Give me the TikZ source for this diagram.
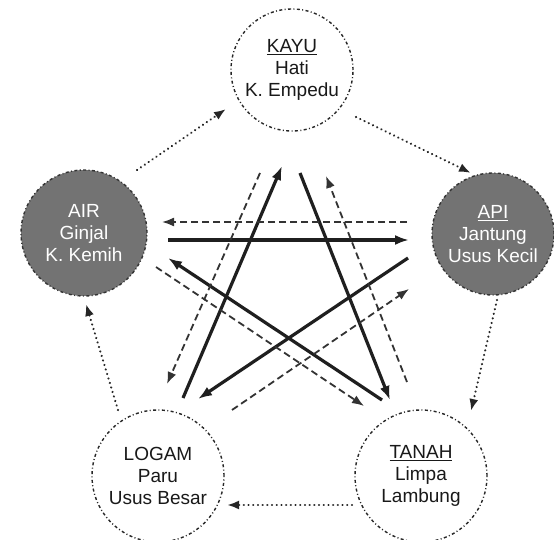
\documentclass[tikz,border=0pt]{standalone}
\usepackage{fontspec}
\setmainfont{Liberation Sans}
\usetikzlibrary{arrows.meta}
\begin{document}
\begin{tikzpicture}[x=1pt,y=-1pt,
  elem/.style={circle, line width=1.4pt, dash pattern=on 3pt off 2.4pt on 1pt off 2.4pt, align=center, inner sep=0pt, font=\fontsize{19}{22}\selectfont},
  light/.style={elem, draw=black!85, fill=white, text=black!90},
  dark/.style={elem, draw=black!80, fill=black!55, text=white},
  cyclearrow/.style={line width=2.3pt, dash pattern=on 0.1pt off 4.6pt, line cap=round, black!85, -{Latex[length=12pt,width=9pt]}},
  ctrl/.style={line width=3.2pt, black!88, -{Latex[length=14pt,width=10pt]}},
  insult/.style={line width=1.8pt, black!80, dash pattern=on 7pt off 4pt, -{Latex[length=12pt,width=9pt]}}]
\useasboundingbox[fill=white] (0,0) rectangle (554,540);

\node[light, minimum size=122pt] (kayu) at (292,70) {\underline{KAYU}\\Hati\\K. Empedu};
\node[dark, minimum size=126pt] (air) at (84,233) {AIR\\Ginjal\\K. Kemih};
\node[dark, minimum size=122pt] (api) at (493,234) {\underline{API}\\Jantung\\Usus Kecil};
\node[light, minimum size=132pt] (logam) at (158,476) {LOGAM\\Paru\\Usus Besar};
\node[light, minimum size=132pt] (tanah) at (421,476) {\underline{TANAH}\\Limpa\\Lambung};

% outer generating cycle
\coordinate (c1a) at (137,170); \coordinate (c1b) at (226,109);
\coordinate (c2a) at (356,117); \coordinate (c2b) at (471,173);
\coordinate (c3a) at (497,300); \coordinate (c3b) at (471,411);
\coordinate (c4a) at (352,505); \coordinate (c4b) at (227,505);
\coordinate (c5a) at (118,410); \coordinate (c5b) at (86,304);
\draw[cyclearrow] (c1a) -- (c1b);
\draw[cyclearrow] (c2a) -- (c2b);
\draw[cyclearrow] (c3a) -- (c3b);
\draw[cyclearrow] (c4a) -- (c4b);
\draw[cyclearrow] (c5a) -- (c5b);

% controlling star (solid)
\coordinate (s1a) at (168,240); \coordinate (s1b) at (409,240);
\coordinate (s2a) at (183,398); \coordinate (s2b) at (282,166);
\coordinate (s3a) at (300,173); \coordinate (s3b) at (390,400);
\coordinate (s4a) at (408,258); \coordinate (s4b) at (198,399);
\coordinate (s5a) at (382,400); \coordinate (s5b) at (168,258);
\draw[ctrl] (s1a) -- (s1b);
\draw[ctrl] (s2a) -- (s2b);
\draw[ctrl] (s3a) -- (s3b);
\draw[ctrl] (s4a) -- (s4b);
\draw[ctrl] (s5a) -- (s5b);

% insulting star (dashed)
\coordinate (d1a) at (407,222); \coordinate (d1b) at (162,222);
\coordinate (d2a) at (260,173); \coordinate (d2b) at (167,384);
\coordinate (d3a) at (407,382); \coordinate (d3b) at (326,176);
\coordinate (d4a) at (156,267); \coordinate (d4b) at (364,406);
\coordinate (d5a) at (232,410); \coordinate (d5b) at (409,289);
\draw[insult] (d1a) -- (d1b);
\draw[insult] (d2a) -- (d2b);
\draw[insult] (d3a) -- (d3b);
\draw[insult] (d4a) -- (d4b);
\draw[insult] (d5a) -- (d5b);
\end{tikzpicture}
\end{document}
